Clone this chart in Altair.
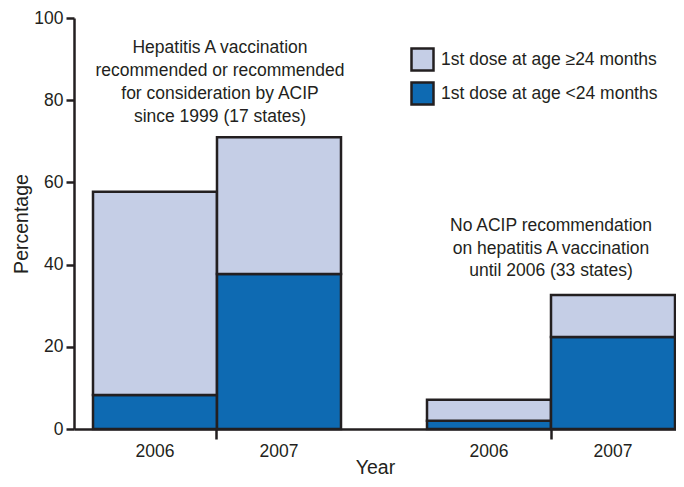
import altair as alt
import pandas as pd

# ---- data ----
group_names = ["ACIP recommendation since 1999 (17 states)",
               "No ACIP recommendation until 2006 (33 states)"]
bar_group = [group_names[0], group_names[0], group_names[1], group_names[1]]
bar_year = ["2006", "2007", "2006", "2007"]
under_24 = [8.3, 37.7, 2.0, 22.4]        # 1st dose at age <24 months
atleast_24 = [49.4, 33.3, 5.1, 10.2]     # 1st dose at age >=24 months
series = ["1st dose at age \u226524 months", "1st dose at age <24 months"]
y_ticks = [0, 20, 40, 60, 80, 100]
note_1 = ["Hepatitis A vaccination", "recommended or recommended",
          "for consideration by ACIP", "since 1999 (17 states)"]
note_2 = ["No ACIP recommendation", "on hepatitis A vaccination",
          "until 2006 (33 states)"]

LIGHT = "#C5CEE6"
DARK = "#0E6AB2"
INK = "#231F20"
FONT = "Liberation Sans"
FS = 17.5

rows = []
for g, yr, u, a in zip(bar_group, bar_year, under_24, atleast_24):
    rows.append(dict(group=g, year=yr, dose=series[1], value=u, ord=0))
    rows.append(dict(group=g, year=yr, dose=series[0], value=a, ord=1))
df = pd.DataFrame(rows)
df_years = pd.DataFrame(dict(group=bar_group, year=bar_year))
df_note1 = pd.DataFrame(dict(group=[group_names[0]], txt=[note_1]))
df_note2 = pd.DataFrame(dict(group=[group_names[1]], txt=[note_2]))

W, H = 602, 411

x_scale = alt.Scale(domain=group_names, paddingInner=0.2575,
                    paddingOuter=0.02994, align=0.95)
xo_scale = alt.Scale(domain=["2006", "2007"], paddingInner=0, paddingOuter=0)

x_enc = alt.X("group:N", scale=x_scale,
              axis=alt.Axis(labels=False, title="Year", tickSize=10,
                            titleY=44, titleBaseline="alphabetic",
                            titleFontSize=19.5, titleFontWeight="normal"))

bars = alt.Chart(df).mark_bar(stroke=INK, strokeWidth=2.5).encode(
    x=x_enc,
    xOffset=alt.XOffset("year:N", scale=xo_scale),
    y=alt.Y("value:Q", stack="zero",
            scale=alt.Scale(domain=[0, 100], nice=False),
            axis=alt.Axis(values=y_ticks, title="Percentage", tickSize=8,
                          labelPadding=3, titlePadding=2, titleFontSize=19.5,
                          titleFontWeight="normal")),
    color=alt.Color("dose:N", scale=alt.Scale(domain=series, range=[LIGHT, DARK]),
                    legend=alt.Legend(title=None, orient="none", legendX=336,
                                      legendY=29, symbolType="square",
                                      symbolSize=484, symbolStrokeColor=INK,
                                      symbolStrokeWidth=2.5, symbolOpacity=1,
                                      labelFontSize=FS, labelFont=FONT,
                                      labelColor=INK, rowPadding=1,
                                      labelOffset=6, labelLimit=400)),
    order=alt.Order("ord:Q"),
)

years = alt.Chart(df_years).mark_text(fontSize=FS, font=FONT, color=INK,
                                      baseline="middle").encode(
    x=alt.X("group:N", scale=x_scale),
    xOffset=alt.XOffset("year:N", scale=xo_scale),
    y=alt.value(H + 23),
    text="year:N",
)

n1 = alt.Chart(df_note1).mark_text(fontSize=FS, font=FONT, color=INK,
                                   baseline="top", lineHeight=23,
                                   dx=3).encode(
    x=alt.X("group:N", scale=x_scale),
    y=alt.value(21),
    text="txt",
)
n2 = alt.Chart(df_note2).mark_text(fontSize=FS, font=FONT, color=INK,
                                   baseline="top", lineHeight=22.5).encode(
    x=alt.X("group:N", scale=x_scale),
    y=alt.value(199),
    text="txt",
)

chart = alt.layer(bars, years, n1, n2).properties(
    width=W, height=H,
    autosize=alt.AutoSizeParams(type="none"),
    padding={"left": 66, "top": 10, "right": 0, "bottom": 50},
).configure_view(stroke=None).configure_axis(
    grid=False, domainColor=INK, domainWidth=2.5, tickColor=INK, tickWidth=2.5,
    labelFont=FONT, labelFontSize=FS, labelColor=INK, titleFont=FONT,
    titleColor=INK,
)

chart.save("out.html", embed_options={"renderer": "svg", "actions": False})
